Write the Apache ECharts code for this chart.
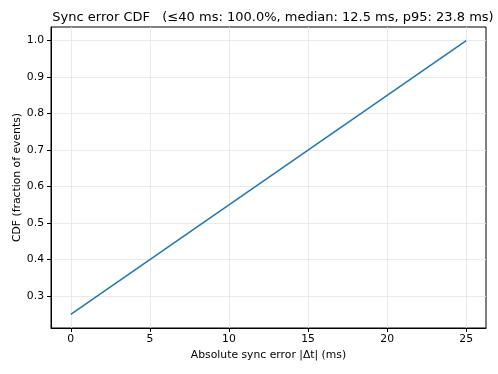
<!DOCTYPE html>
<html><head><meta charset="utf-8">
<script src="https://cdn.jsdelivr.net/npm/echarts@6/dist/echarts.min.js"></script>
<style>html,body{margin:0;padding:0;background:#fff}#c{width:498px;height:374px}</style>
</head><body><div id="c"></div>
<script>
const syncErrorMs = [0, 8.333, 16.667, 25];
const cdfValues = [0.25, 0.5, 0.75, 1.0];
const xTicks = [0, 5, 10, 15, 20, 25];
const yTicks = [0.3, 0.4, 0.5, 0.6, 0.7, 0.8, 0.9, 1.0];
const titleText = 'Sync error CDF   (\u226440 ms: 100.0%, median: 12.5 ms, p95: 23.8 ms)';
const xLabel = 'Absolute sync error |\u0394t| (ms)';
const yLabel = 'CDF (fraction of events)';

const font = 'DejaVu Sans';
const chart = echarts.init(document.getElementById('c'), null, {renderer: 'canvas'});
chart.setOption({
  animation: false,
  backgroundColor: '#fff',
  title: {text: titleText, left: 268, top: 6, textAlign: 'center',
    textStyle: {fontFamily: font, fontSize: 13, fontWeight: 'normal', color: '#000'}},
  grid: {left: 51, right: 12, top: 27, bottom: 46, containLabel: false, outerBoundsMode: 'none',
    show: true, borderColor: '#000', borderWidth: 1, backgroundColor: 'transparent'},
  xAxis: {type: 'value', min: -1.25, max: 26.25,
    name: xLabel, nameLocation: 'middle', nameGap: 22, nameMoveOverlap: false,
    nameTextStyle: {fontFamily: font, fontSize: 10.8, color: '#000'},
    axisLine: {show: true, onZero: false, lineStyle: {color: '#000', width: 1}},
    axisTick: {show: true, inside: false, interval: 0, customValues: xTicks, length: 4, lineStyle: {color: '#000', width: 1}},
    axisLabel: {customValues: xTicks, fontFamily: font, fontSize: 10.8, color: '#000', margin: 6},
    splitLine: {show: true, lineStyle: {color: '#e5e5e5', width: 0.8}}},
  yAxis: {type: 'value', min: 0.2125, max: 1.0375,
    name: yLabel, nameLocation: 'middle', nameGap: 28, nameMoveOverlap: false,
    nameTextStyle: {fontFamily: font, fontSize: 10.8, color: '#000'},
    axisLine: {show: true, onZero: false, lineStyle: {color: '#000', width: 1}},
    axisTick: {show: true, inside: false, interval: 0, customValues: yTicks, length: 4, lineStyle: {color: '#000', width: 1}},
    axisLabel: {customValues: yTicks, fontFamily: font, fontSize: 10.8, color: '#000', margin: 7,
      formatter: v => v.toFixed(1)},
    splitLine: {show: true, lineStyle: {color: '#e5e5e5', width: 0.8}}},
  series: [{type: 'line', data: syncErrorMs.map((x, i) => [x, cdfValues[i]]),
    showSymbol: false, lineStyle: {color: '#1f77b4', width: 1.5}, itemStyle: {color: '#1f77b4'}}]
});
</script></body></html>
